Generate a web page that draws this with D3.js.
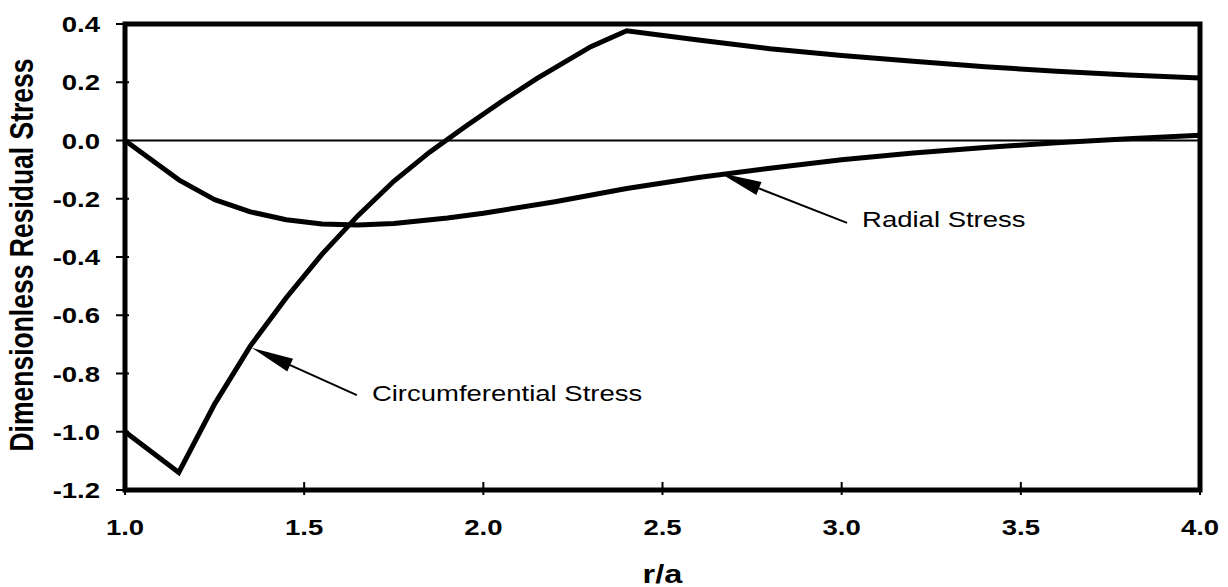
<!DOCTYPE html>
<html><head><meta charset="utf-8">
<script src="https://cdn.jsdelivr.net/npm/d3@7"></script>
<style>body{margin:0;background:#fff}</style>
</head><body>
<svg id="c" width="1228" height="587"></svg>
<script>
// ---- data ----
const xTicks = [1.0, 1.5, 2.0, 2.5, 3.0, 3.5, 4.0];
const yTicks = [0.4, 0.2, 0.0, -0.2, -0.4, -0.6, -0.8, -1.0, -1.2];
const radialR = [1.0, 1.15, 1.25, 1.35, 1.45, 1.55, 1.65, 1.75, 1.9, 2.0, 2.2, 2.4, 2.6, 2.8, 3.0, 3.2, 3.4, 3.6, 3.8, 4.0];
const radialS = [0.0, -0.135, -0.203, -0.245, -0.272, -0.287, -0.29, -0.285, -0.266, -0.25, -0.21, -0.165, -0.127, -0.095, -0.066, -0.043, -0.024, -0.008, 0.006, 0.018];
const circR = [1.0, 1.15, 1.25, 1.35, 1.45, 1.55, 1.65, 1.75, 1.85, 1.95, 2.05, 2.15, 2.3, 2.4, 2.6, 2.8, 3.0, 3.2, 3.4, 3.6, 3.8, 4.0];
const circS = [-1.0, -1.14, -0.905, -0.705, -0.54, -0.39, -0.258, -0.14, -0.04, 0.048, 0.133, 0.213, 0.322, 0.377, 0.345, 0.315, 0.292, 0.272, 0.253, 0.238, 0.225, 0.215];
const annotations = [
  {text: "Radial Stress", tip: [2.66, -0.112], tail: [3.015, -0.283], label: [3.057, -0.297]},
  {text: "Circumferential Stress", tip: [1.354, -0.712], tail: [1.647, -0.874], label: [1.689, -0.893]}
];
const xTitle = "r/a";
const yTitle = "Dimensionless Residual Stress";

// ---- chart ----
const svg = d3.select("#c");
const L = 125, R = 1200, T = 24, B = 490;
const x = d3.scaleLinear().domain([1, 4]).range([L, R]);
const y = d3.scaleLinear().domain([-1.2, 0.4]).range([B, T]);
const SX = 1.25;
const font = "'Liberation Sans', Arial, Helvetica, sans-serif";
const fmt = v => d3.format(".1f")(v).replace("\u2212", "-");

// zero line
svg.append("line").attr("x1", x(1)).attr("x2", x(4)).attr("y1", y(0)).attr("y2", y(0))
  .attr("stroke", "#000").attr("stroke-width", 2);

// curves
const line = d3.line().x(d => x(d[0])).y(d => y(d[1]));
svg.append("path").datum(radialR.map((r, i) => [r, radialS[i]])).attr("d", line)
  .attr("fill", "none").attr("stroke", "#000").attr("stroke-width", 5).attr("stroke-linejoin", "round");
svg.append("path").datum(circR.map((r, i) => [r, circS[i]])).attr("d", line)
  .attr("fill", "none").attr("stroke", "#000").attr("stroke-width", 5).attr("stroke-linejoin", "miter");

// frame
svg.append("rect").attr("x", L).attr("y", T).attr("width", R - L).attr("height", B - T)
  .attr("fill", "none").attr("stroke", "#000").attr("stroke-width", 5);

// y ticks
yTicks.forEach(v => {
  svg.append("line").attr("x1", L - 9).attr("x2", L + 4).attr("y1", y(v)).attr("y2", y(v))
    .attr("stroke", "#000").attr("stroke-width", 2);
  svg.append("text").attr("transform", `translate(${L - 25},${y(v) + 8}) scale(${SX},1)`)
    .attr("text-anchor", "end").attr("font-family", font).attr("font-weight", "bold")
    .attr("font-size", 22).text(fmt(v));
});
// x ticks
xTicks.forEach(v => {
  svg.append("line").attr("x1", x(v)).attr("x2", x(v)).attr("y1", B - 8).attr("y2", B + 5)
    .attr("stroke", "#000").attr("stroke-width", 2);
  svg.append("text").attr("transform", `translate(${x(v)},${B + 45}) scale(${SX},1)`)
    .attr("text-anchor", "middle").attr("font-family", font).attr("font-weight", "bold")
    .attr("font-size", 22).text(fmt(v));
});

// axis titles
svg.append("text").attr("transform", `translate(${(L + R) / 2},583) scale(${SX},1)`)
  .attr("text-anchor", "middle").attr("font-family", font).attr("font-weight", "bold")
  .attr("font-size", 26).text(xTitle);
svg.append("text").attr("transform", `translate(33,${(T + B) / 2 - 2}) rotate(-90) scale(1,${SX})`)
  .attr("text-anchor", "middle").attr("font-family", font).attr("font-weight", "bold")
  .attr("font-size", 26.5).text(yTitle);

// annotations
annotations.forEach(a => {
  const tx = x(a.tip[0]), ty = y(a.tip[1]);
  const sx = x(a.tail[0]), sy = y(a.tail[1]);
  const dx = sx - tx, dy = sy - ty, len = Math.hypot(dx, dy);
  const ux = dx / len, uy = dy / len;
  const hl = 42, hw = 7;
  const bx = tx + ux * hl, by = ty + uy * hl;
  svg.append("line").attr("x1", bx).attr("y1", by).attr("x2", sx).attr("y2", sy)
    .attr("stroke", "#000").attr("stroke-width", 2);
  svg.append("path").attr("d", `M${tx},${ty}L${bx - uy * hw},${by + ux * hw}L${bx + uy * hw},${by - ux * hw}Z`)
    .attr("fill", "#000");
  svg.append("text").attr("transform", `translate(${x(a.label[0])},${y(a.label[1])}) scale(${SX},1)`)
    .attr("font-family", font).attr("font-size", 22).text(a.text);
});
</script>
</body></html>
